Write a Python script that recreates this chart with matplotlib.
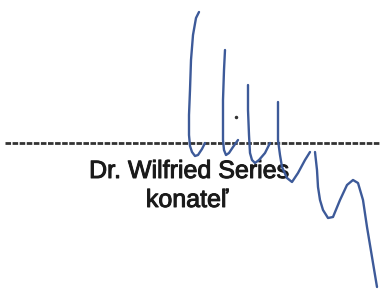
import matplotlib
matplotlib.use("Agg")
import matplotlib.pyplot as plt
import matplotlib.patheffects as pe

# signature strokes (pixel coords of the picture, y downwards)
stroke1_x = [199, 196, 193, 191, 190, 189, 189, 190, 192, 195, 198, 202, 205]
stroke1_y = [12, 18, 35, 60, 90, 115, 135, 146, 152, 156, 155, 149, 143]
stroke2_x = [225, 224, 223, 223, 223, 224, 226, 229, 233, 238]
stroke2_y = [50, 70, 100, 125, 140, 150, 155, 153, 147, 140]
stroke3_x = [248, 248, 249, 250, 252, 255, 259, 265, 270]
stroke3_y = [85, 110, 135, 153, 160, 163, 160, 153, 143]
stroke4_x = [278, 278, 278, 280, 282, 287, 292, 298, 305, 310]
stroke4_y = [102, 120, 140, 155, 167, 178, 182, 173, 160, 152]
tail_x = [315, 317, 318, 320, 323, 328, 333, 340, 347, 353, 358, 363,
          367, 372, 377]
tail_y = [152, 170, 187, 200, 210, 218, 217, 200, 185, 180, 183, 200,
          227, 257, 287]
dot_x = [236]
dot_y = [117]

line_y = 143
name_text = "Dr. Wilfried Series"
role_text = "konateľ"

fig = plt.figure(figsize=(3.8, 3.0), dpi=100)
ax = fig.add_axes([0, 0, 1, 1])
ax.set_xlim(0, 380)
ax.set_ylim(300, 0)
ax.axis("off")

#dashed signature line
ax.plot([5, 380], [line_y, line_y], color="#333333", lw=2.0,
        dashes=(2.0, 0.55), zorder=1)

thick = [pe.withStroke(linewidth=0.7, foreground="#1a1a1a")]
ax.text(189, 171, name_text, ha="center", va="center", fontsize=18,
        family="Liberation Sans", color="#1a1a1a", zorder=2,
        path_effects=thick)
ax.text(187, 200, role_text, ha="center", va="center", fontsize=18,
        family="Liberation Sans", color="#1a1a1a", zorder=2,
        path_effects=thick)

blue = "#3d5a99"
for sx, sy in [(stroke1_x, stroke1_y), (stroke2_x, stroke2_y),
               (stroke3_x, stroke3_y), (stroke4_x, stroke4_y),
               (tail_x, tail_y)]:
    ax.plot(sx, sy, color=blue, lw=1.7, solid_joinstyle="round",
            solid_capstyle="round", zorder=3)
ax.plot(dot_x, dot_y, "o", color="#333333", ms=1.5, zorder=3)

fig.savefig("out.png", dpi=100)
